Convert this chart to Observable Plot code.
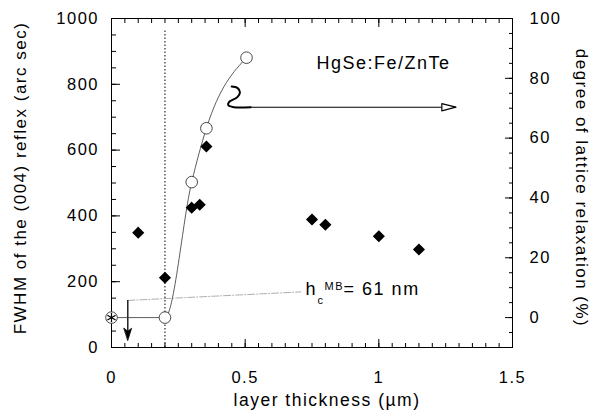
<!DOCTYPE html>
<html><head><meta charset="utf-8">
<script src="https://cdn.jsdelivr.net/npm/d3@7"></script>
<script src="https://cdn.jsdelivr.net/npm/@observablehq/plot@0.6"></script>
<style>body{margin:0;background:#fff} svg{display:block}</style>
</head><body><div id="chart"></div>
<script>
// FWHM of (004) reflex, arc sec (left axis)
const fwhmX = [0.1, 0.2, 0.3, 0.33, 0.355, 0.75, 0.8, 1.0, 1.15];
const fwhmY = [349, 212, 425, 434, 611, 389, 373, 338, 298];
// degree of lattice relaxation, % (right axis)
const relaxX = [0, 0.2, 0.3, 0.355, 0.505];
const relaxY = [0, 0, 45.3, 63.3, 86.9];
// ticks
const xMajor = [0, 0.5, 1, 1.5];
const xMinor = d3.range(0, 1.5001, 0.05);
const leftMajor = [0, 200, 400, 600, 800, 1000];
const leftMinor = d3.range(0, 1000.1, 50);
const rightMajor = [0, 20, 40, 60, 80, 100];
const rightMinor = d3.range(-5, 100.1, 5);
const rightDomain = [-10, 100];
// annotations
const dividerX = [0.2];
const dividerTop = 965;
const hcX = [0.061];                 // h_c^MB = 61 nm
const hcGuideX = [0.061, 0.708];
const hcGuideY = [143, 169];
const hcArrowY = [143, 22];
const hcLabel = {x: 0.726, y: 176};
const squiggleX = [0.4494, 0.4708, 0.4805, 0.4708, 0.4393, 0.4371, 0.4581, 0.5206];
const squiggleY = [793, 789, 776, 761, 746, 736, 730.4, 730.4];
const pointerX = [0.5206, 1.288];
const pointerY = [730.4, 730.4];
const sampleLabel = {x: 0.767, y: 863, text: "HgSe:Fe/ZnTe"};

const toLeft = r => (r - rightDomain[0]) / (rightDomain[1] - rightDomain[0]) * 1000;
const fromLeft = v => v / 1000 * (rightDomain[1] - rightDomain[0]) + rightDomain[0];

const fwhm = fwhmX.map((x, i) => ({x, y: fwhmY[i]}));
const relax = relaxX.map((x, i) => ({x, y: toLeft(relaxY[i])}));
const squiggle = squiggleX.map((x, i) => ({x, y: squiggleY[i]}));
const pointer = pointerX.map((x, i) => ({x, y: pointerY[i]}));
const hcGuide = hcGuideX.map((x, i) => ({x, y: hcGuideY[i]}));

const dart = {draw(ctx, l) { const w = 3.8; ctx.moveTo(0, -l); ctx.lineTo(-w, 0); ctx.lineTo(0, -l * 0.25); ctx.lineTo(w, 0); ctx.closePath(); }};
const openTri = {draw(ctx, l) { const w = 3.6; ctx.moveTo(0, -l); ctx.lineTo(-w, 0); ctx.lineTo(w, 0); ctx.closePath(); }};

const FONT = "Liberation Sans, Arial, Helvetica, sans-serif";
const fmt = d => String(d);
const none = () => "";

const hcParts = [
  {t: "h", dx: 0, dy: 0, s: 18},
  {t: "c", dx: 12, dy: 10.5, s: 11},
  {t: "MB", dx: 19, dy: -3, s: 11},
  {t: "= 61 nm", dx: 38, dy: 0, s: 18}
];

const chart = Plot.plot({
  width: 596, height: 417,
  marginLeft: 111, marginRight: 84, marginTop: 18, marginBottom: 70,
  x: {domain: [0, 1.5]},
  y: {domain: [0, 1000]},
  style: {fontFamily: FONT, letterSpacing: "1.5px", background: "white", color: "black"},
  marks: [
    // ticks (inward)
    Plot.axisX(xMinor, {anchor: "bottom", tickSize: -4, tickFormat: none, label: null}),
    Plot.axisX(xMajor, {anchor: "bottom", tickSize: -8, tickFormat: none, label: null}),
    Plot.axisX(xMinor, {anchor: "top", tickSize: -4, tickFormat: none, label: null}),
    Plot.axisX(xMajor, {anchor: "top", tickSize: -8, tickFormat: none, label: null}),
    Plot.axisY(leftMinor, {anchor: "left", tickSize: -5, tickFormat: none, label: null}),
    Plot.axisY(leftMajor, {anchor: "left", tickSize: -9, tickFormat: none, label: null}),
    Plot.axisY(rightMinor.map(toLeft), {anchor: "right", tickSize: -4, tickFormat: none, label: null}),
    Plot.axisY(rightMajor.map(toLeft), {anchor: "right", tickSize: -8, tickFormat: none, label: null}),
    // tick labels
    Plot.axisX(xMajor, {anchor: "bottom", tickSize: 0, tickPadding: 24, fontSize: 16.5, tickFormat: fmt, label: null}),
    Plot.axisY(leftMajor, {anchor: "left", tickSize: 0, tickPadding: 12.5, fontSize: 16.5, tickFormat: fmt, label: null}),
    Plot.axisY(rightMajor.map(toLeft), {anchor: "right", tickSize: 0, tickPadding: 17, fontSize: 16.5, tickFormat: v => String(Math.round(fromLeft(v))), label: null}),
    // axis titles
    Plot.text(["FWHM of the (004) reflex (arc sec)"], {frameAnchor: "left", textAnchor: "middle", rotate: -90, dx: -91, dy: -5, fontSize: 17}),
    Plot.text(["degree of lattice relaxation (%)"], {frameAnchor: "right", textAnchor: "middle", rotate: 90, dx: 69, dy: 5, fontSize: 17}),
    Plot.text(["layer thickness (µm)"], {frameAnchor: "bottom", textAnchor: "middle", dx: 15, dy: 58, fontSize: 17.5}),
    Plot.frame({stroke: "black", strokeWidth: 1}),
    // critical thickness divider
    Plot.ruleX(dividerX, {y1: 0, y2: dividerTop, stroke: "black", strokeWidth: 1, strokeDasharray: "1.5,2"}),
    // h_c annotation
    Plot.line(hcGuide, {x: "x", y: "y", stroke: "#999", strokeWidth: 0.8, strokeDasharray: "7,2,1,2"}),
    Plot.ruleX(hcX, {y1: hcArrowY[0], y2: hcArrowY[1] + 8, stroke: "black", strokeWidth: 1.3}),
    Plot.vector(hcX, {x: d => d, y: () => hcArrowY[1], length: 12, rotate: 180, anchor: "end", shape: dart, fill: "black", stroke: "black", strokeWidth: 0.8}),
    ...hcParts.map(p => Plot.text([p.t], {x: () => hcLabel.x, y: () => hcLabel.y, text: d => d, textAnchor: "start", dx: p.dx, dy: p.dy, fontSize: p.s})),
    // relaxation curve
    Plot.line(relax, {x: "x", y: "y", curve: "monotone-x", stroke: "#333", strokeWidth: 0.8}),
    Plot.dot(relax, {x: "x", y: "y", r: 5.8, fill: "white", stroke: "#333", strokeWidth: 0.9}),
    Plot.dot(relax.slice(0, 1), {x: "x", y: "y", r: 4.5, symbol: "asterisk", stroke: "black", strokeWidth: 1.2}),
    // FWHM diamonds
    Plot.dot(fwhm, {x: "x", y: "y", r: 4.5, symbol: "diamond2", fill: "black", stroke: "black"}),
    // squiggle pointer to right axis
    Plot.line(squiggle, {x: "x", y: "y", curve: "catmull-rom", stroke: "black", strokeWidth: 2}),
    Plot.line(pointer, {x: "x", y: "y", stroke: "black", strokeWidth: 1.1}),
    Plot.vector([pointer[1]], {x: "x", y: "y", length: 14, rotate: 90, anchor: "end", shape: openTri, fill: "white", stroke: "black", strokeWidth: 1.2}),
    // sample label
    Plot.text([sampleLabel], {x: "x", y: "y", text: "text", textAnchor: "start", fontSize: 18})
  ]
});
document.getElementById("chart").appendChild(chart);
</script>
</body></html>
